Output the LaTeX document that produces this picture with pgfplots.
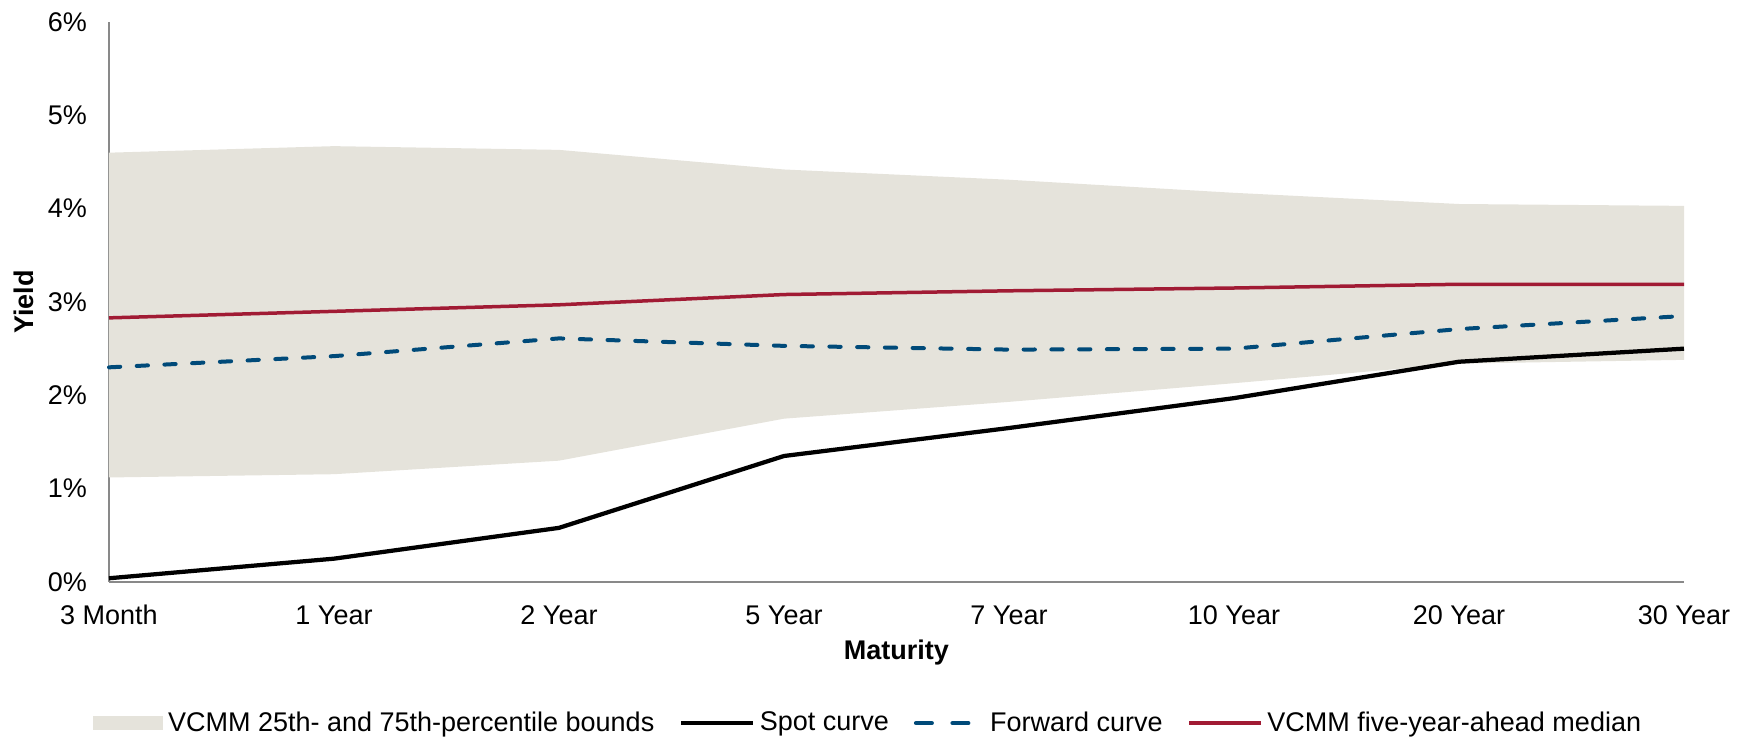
\documentclass[border=0pt]{standalone}
\usepackage{pgfplots}
\usepackage{pgfplotstable}
\pgfplotsset{compat=1.18}
\usepgfplotslibrary{fillbetween}
\usepackage{fontspec}
\setmainfont{Liberation Sans}
\definecolor{band}{RGB}{229,227,219}
\definecolor{vred}{RGB}{161,27,52}
\definecolor{vblue}{RGB}{0,74,121}
\definecolor{axgray}{RGB}{137,137,137}
\pgfplotstableread{
x upper lower spot fwd med
0 4.60 1.12 0.04 2.30 2.83
1 4.67 1.155 0.25 2.42 2.90
2 4.63 1.30 0.58 2.61 2.97
3 4.42 1.75 1.35 2.53 3.08
4 4.31 1.93 1.65 2.49 3.12
5 4.17 2.13 1.97 2.50 3.15
6 4.05 2.34 2.36 2.71 3.19
7 4.03 2.38 2.50 2.85 3.19
}\data
\begin{document}
\begin{tikzpicture}
\begin{axis}[
 width=630pt, height=224pt, scale only axis,
 xmin=0, xmax=7, ymin=0, ymax=6,
 clip=false,
 axis x line*=bottom, axis y line*=left,
 axis line style={draw=axgray, line width=0.8pt, -},
 major tick length=0pt,
 xtick={0,...,7},
 xticklabels={3 Month,1 Year,2 Year,5 Year,7 Year,10 Year,20 Year,30 Year},
 ytick={0,...,6},
 yticklabels={0\%,1\%,2\%,3\%,4\%,5\%,6\%},
 ticklabel style={font=\fontsize{10.8}{12.5}\selectfont},
 xticklabel style={anchor=base, yshift=-17.1pt},
 yticklabel style={anchor=east, xshift=-5.3pt},
 xlabel={Maturity}, ylabel={Yield},
 label style={font=\fontsize{10.8}{12.5}\selectfont\bfseries},
 xlabel style={at={(axis description cs:0.5,-0.126)}, anchor=center},
 ylabel style={at={(axis description cs:-0.054,0.5)}, anchor=center},
 legend style={at={(axis description cs:0.483,-0.252)}, anchor=center, draw=none, fill=none,
   legend columns=4, font=\fontsize{10.8}{12.5}\selectfont,
   /tikz/every even column/.append style={column sep=8pt}},
]
\addplot[name path=up, draw=none, forget plot] table[x=x,y=upper] {\data};
\addplot[name path=lo, draw=none, forget plot] table[x=x,y=lower] {\data};
\addplot[fill=band, draw=none, forget plot] fill between[of=up and lo];
\addplot[vred, line width=1.4pt, forget plot] table[x=x,y=med] {\data};
\addplot[vblue, line width=1.6pt, line cap=round, dash pattern=on 4.5pt off 6.6pt, forget plot] table[x=x,y=fwd] {\data};
\addplot[black, line width=1.7pt, forget plot] table[x=x,y=spot] {\data};
\addlegendimage{legend image code/.code={\fill[band] (0pt,-2.6pt) rectangle (27.5pt,2.6pt);}}
\addlegendentry{VCMM 25th- and 75th-percentile bounds}
\addlegendimage{legend image code/.code={\draw[black, line width=1.7pt] (0pt,0pt) -- (28.5pt,0pt);}}
\addlegendentry{Spot curve}
\addlegendimage{legend image code/.code={\path[draw=none, fill=none] (0pt,0pt) rectangle (28.5pt,0.1pt);\draw[vblue, line width=1.6pt, line cap=round, dash pattern=on 6.4pt off 8.2pt] (0.8pt,0pt) -- (21.8pt,0pt);}}
\addlegendentry{Forward curve}
\addlegendimage{legend image code/.code={\draw[vred, line width=1.4pt] (0pt,0pt) -- (28.5pt,0pt);}}
\addlegendentry{VCMM five-year-ahead median}
\end{axis}
\pgfresetboundingbox
\path[use as bounding box] (-43.6pt,-62pt) rectangle (656pt,232.8pt);
\end{tikzpicture}
\end{document}
